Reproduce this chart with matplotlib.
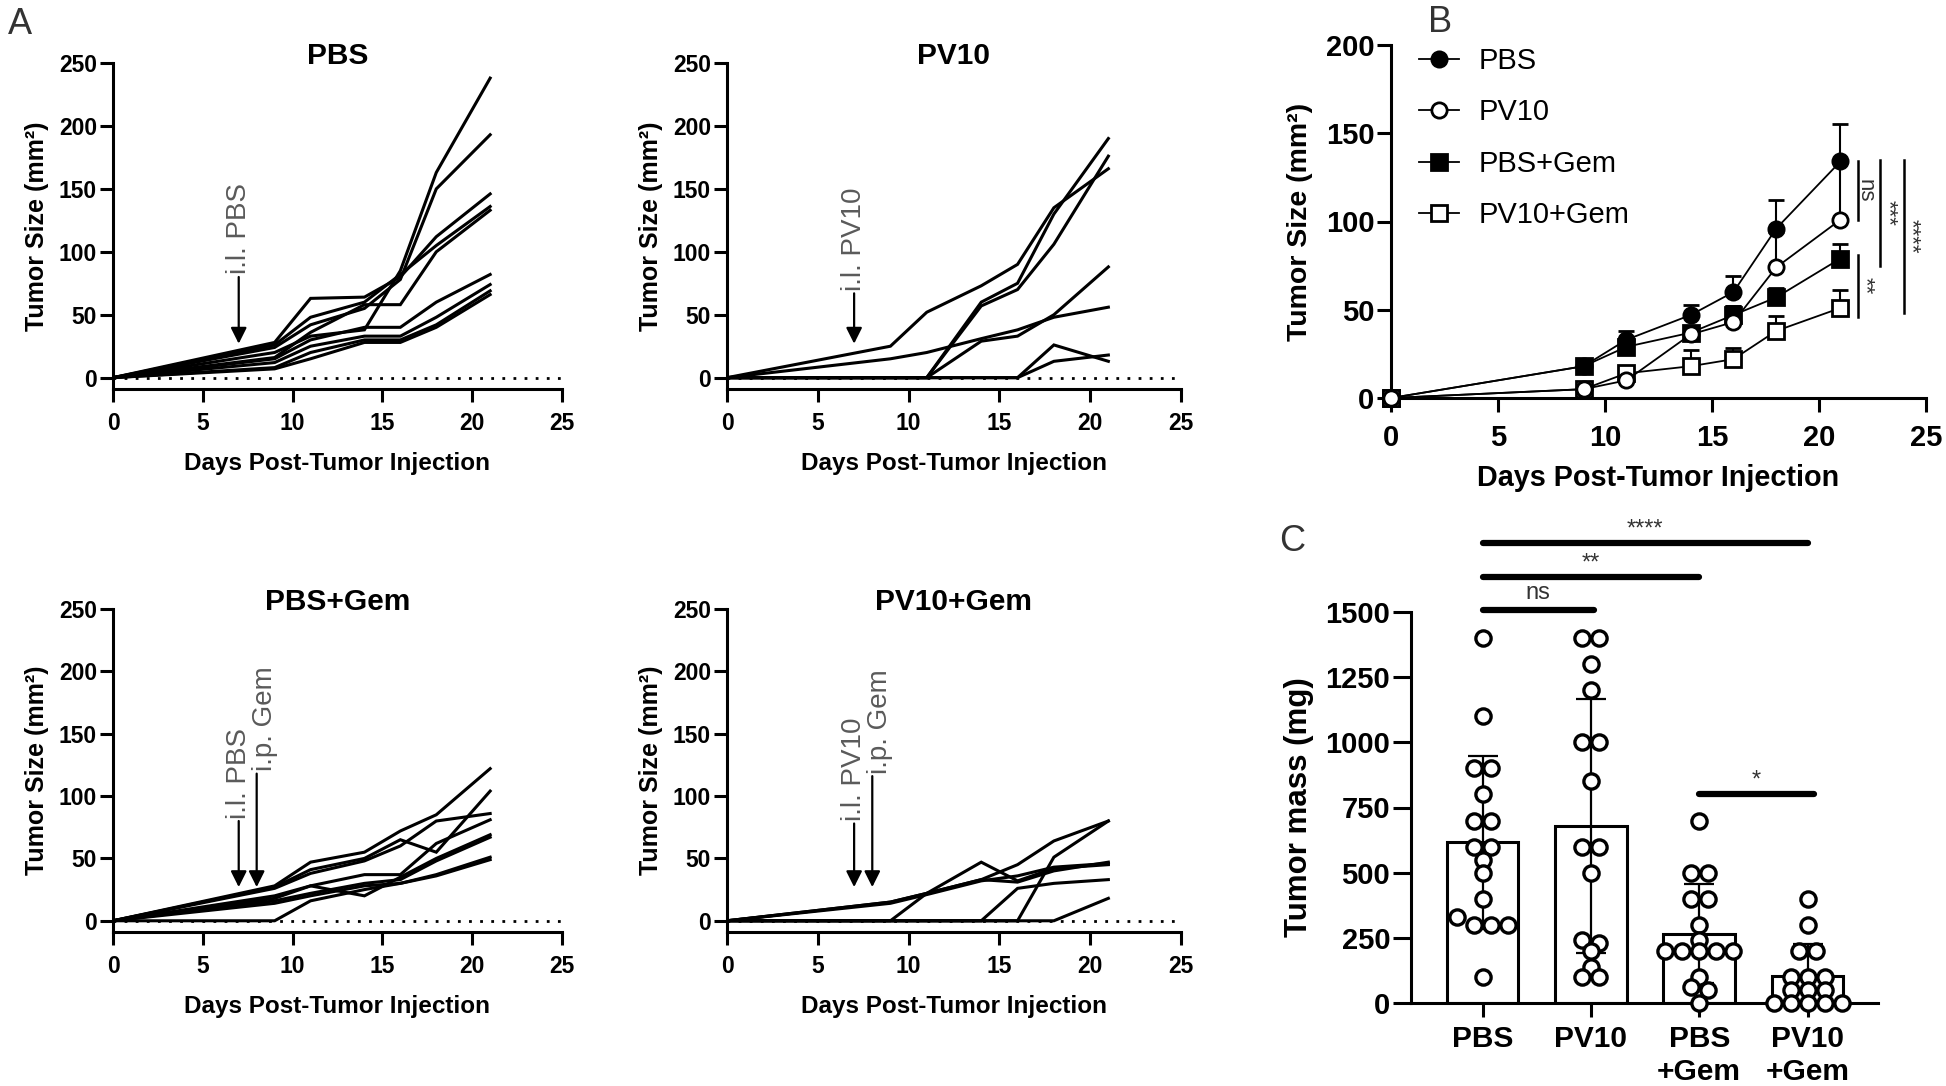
import numpy as np
import matplotlib
matplotlib.use('Agg')
import matplotlib.pyplot as plt
from matplotlib.lines import Line2D

plt.rcParams['font.family'] = ['Liberation Sans', 'DejaVu Sans']

# ---------------- data ----------------
days = [0, 9, 11, 14, 16, 18, 21]

pbs_mice = [
    [0, 20, 33, 38, 85, 163, 238],
    [0, 24, 42, 55, 78, 150, 193],
    [0, 28, 63, 64, 80, 112, 146],
    [0, 26, 48, 60, 82, 105, 136],
    [0, 16, 36, 58, 58, 100, 133],
    [0, 15, 30, 40, 40, 60, 82],
    [0, 12, 25, 33, 33, 48, 74],
    [0, 8, 20, 30, 30, 42, 69],
    [0, 7, 15, 28, 28, 40, 66],
]
pv10_mice = [
    [0, 25, 52, 73, 90, 135, 166],
    [0, 0, 0, 60, 75, 130, 190],
    [0, 0, 0, 57, 70, 106, 176],
    [0, 15, 20, 31, 38, 48, 56],
    [0, 0, 0, 29, 33, 50, 88],
    [0, 0, 0, 0, 0, 26, 13],
    [0, 0, 0, 0, 0, 13, 18],
]
pbsgem_mice = [
    [0, 28, 47, 55, 72, 85, 122],
    [0, 27, 41, 50, 65, 55, 104],
    [0, 26, 38, 48, 60, 80, 86],
    [0, 20, 28, 37, 37, 62, 81],
    [0, 18, 28, 20, 35, 50, 69],
    [0, 16, 22, 30, 33, 48, 67],
    [0, 14, 20, 28, 30, 37, 51],
    [0, 0, 16, 25, 30, 36, 49],
]
pv10gem_mice = [
    [0, 15, 22, 33, 45, 64, 80],
    [0, 15, 22, 33, 31, 40, 47],
    [0, 0, 22, 47, 32, 42, 45],
    [0, 0, 0, 0, 26, 30, 33],
    [0, 0, 0, 0, 0, 51, 80],
    [0, 0, 0, 0, 0, 0, 18],
    [0, 14, 21, 32, 36, 43, 46],
]

# panel B: mean and SEM
groups = ['PBS', 'PV10', 'PBS+Gem', 'PV10+Gem']
mean_pbs = [0, 18, 33, 47, 60, 96, 134]
sem_pbs = [0, 1, 5, 5.5, 9, 16, 21]
mean_pv10 = [0, 5, 10, 36, 43, 74, 101]
sem_pv10 = [0, 1, 2, 4, 9, 20, 32]
mean_pbsgem = [0, 18, 29, 37, 47, 57, 79]
sem_pbsgem = [0, 1, 3, 3, 5, 5.6, 8.5]
mean_pv10gem = [0, 5, 14, 18, 22, 38, 51]
sem_pv10gem = [0, 1, 2, 9.4, 6.5, 8.4, 10.3]

# panel C: tumor mass (mg)
c_labels = ['PBS', 'PV10', 'PBS\n+Gem', 'PV10\n+Gem']
mass_pbs = [1400, 1100, 900, 900, 800, 700, 700, 600, 600, 550, 500, 400, 330, 300, 300, 300, 100]
mass_pv10 = [1400, 1400, 1300, 1200, 1000, 1000, 850, 600, 600, 500, 240, 230, 200, 140, 100, 100]
mass_pbsgem = [700, 500, 500, 400, 400, 300, 240, 200, 200, 200, 200, 200, 100, 60, 50, 0]
mass_pv10gem = [400, 300, 200, 200, 100, 100, 100, 50, 50, 50, 0, 0, 0, 0, 0]

# ---------------- figure ----------------
W, H = 1946, 1086
fig = plt.figure(figsize=(W / 100, H / 100), dpi=100)

def frac(l, r, top, bot):
    return [l / W, 1 - bot / H, (r - l) / W, (bot - top) / H]

SPINE_LW = 2.2
GRAY = '#5a5a5a'

def style_axes(ax, tick_fs, tl=9.5, xpad=7, ypad=2):
    for s in ['top', 'right']:
        ax.spines[s].set_visible(False)
    for s in ['left', 'bottom']:
        ax.spines[s].set_linewidth(SPINE_LW)
    ax.tick_params(direction='out', length=tl, width=SPINE_LW, labelsize=tick_fs)
    ax.tick_params(axis='x', pad=xpad)
    ax.tick_params(axis='y', pad=ypad)
    for lab in ax.get_xticklabels() + ax.get_yticklabels():
        lab.set_fontweight('bold')

def panel_a(rect, title, mice, arrows):
    ax = fig.add_axes(rect)
    ax.set_xlim(0, 25)
    ax.set_ylim(-9, 250)
    ax.plot([0, 25], [0, 0], color='black', lw=2.0, ls=(0, (1, 3)), zorder=1)
    for m in mice:
        ax.plot(days, m, color='black', lw=2.2, zorder=2, solid_joinstyle='miter')
    ax.set_xticks([0, 5, 10, 15, 20, 25])
    ax.set_yticks([0, 50, 100, 150, 200, 250])
    style_axes(ax, 16.5)
    h_px = rect[3] * H
    ax.text(0.5, 1.0 - 1.5 / h_px, title, transform=ax.transAxes, ha='center',
            va='baseline', fontsize=21.5, fontweight='bold')
    ax.set_xlabel('Days Post-Tumor Injection', fontsize=17.5, fontweight='bold', labelpad=12)
    ax.set_ylabel('Tumor Size (mm²)', fontsize=18, fontweight='bold', labelpad=7)
    for (xd, ytop, txt, tx) in arrows:
        ax.annotate('', xy=(xd, 27), xytext=(xd, ytop),
                    arrowprops=dict(arrowstyle='-|>', color='black', lw=1.6,
                                    mutation_scale=24, shrinkA=0, shrinkB=0))
        ax.text(tx, ytop + 2, txt, rotation=90, ha='center', va='bottom',
                color=GRAY, fontsize=20)
    return ax

panel_a(frac(113, 562, 63, 389), 'PBS', pbs_mice, [(7, 80, 'i.l. PBS', 7)])
panel_a(frac(727, 1181, 63, 389), 'PV10', pv10_mice, [(7, 67, 'i.l. PV10', 7)])
panel_a(frac(113, 562, 609, 932), 'PBS+Gem', pbsgem_mice,
        [(7, 80, 'i.l. PBS', 7), (8, 118, 'i.p. Gem', 8.45)])
panel_a(frac(727, 1181, 609, 932), 'PV10+Gem', pv10gem_mice,
        [(7, 78, 'i.l. PV10', 7), (8, 116, 'i.p. Gem', 8.45)])

# ---------------- panel B ----------------
axb = fig.add_axes(frac(1391, 1926, 45, 398))
axb.set_xlim(0, 25)
axb.set_ylim(0, 200)
series = [
    ('PBS', mean_pbs, sem_pbs, 'o', 'black', 3),
    ('PBS+Gem', mean_pbsgem, sem_pbsgem, 's', 'black', 4),
    ('PV10+Gem', mean_pv10gem, sem_pv10gem, 's', 'white', 5),
    ('PV10', mean_pv10, sem_pv10, 'o', 'white', 6),
]
handles = {}
for name, m, s, mk, fc, z in series:
    eb = axb.errorbar(days, m, yerr=[np.zeros(len(s)), s], color='black', lw=1.3,
                      marker=mk, markersize=11, markerfacecolor=fc,
                      markeredgecolor='black', markeredgewidth=2.0,
                      capsize=5.5, capthick=1.5, elinewidth=1.5, zorder=z, clip_on=False)
    for art in eb.lines[2]:
        art.set_clip_on(False)
    for art in eb.lines[1]:
        art.set_clip_on(False)
    handles[name] = Line2D([], [], color='black', lw=1.3, marker=mk, markersize=11,
                           markerfacecolor=fc, markeredgecolor='black', markeredgewidth=2.0)
axb.set_xticks([0, 5, 10, 15, 20, 25])
axb.set_yticks([0, 50, 100, 150, 200])
style_axes(axb, 21, tl=10, xpad=9, ypad=2)
axb.set_xlabel('Days Post-Tumor Injection', fontsize=20.7, fontweight='bold', labelpad=8)
axb.set_ylabel('Tumor Size (mm²)', fontsize=20.5, fontweight='bold', labelpad=9)
axb.legend([handles[g] for g in groups], groups, loc='upper left',
           bbox_to_anchor=(0.031, 1.027), frameon=False, fontsize=21,
           handlelength=1.35, handletextpad=0.7, labelspacing=0.8, borderaxespad=0)

# significance lines in B: (x, y_low, y_high, text)
b_sig_x = [21.8, 21.8, 22.85, 23.95]
b_sig_lo = [101, 46, 75, 48]
b_sig_hi = [134, 81, 135, 135]
b_sig_txt = ['ns', '**', '***', '****']
for x, lo, hi, t in zip(b_sig_x, b_sig_lo, b_sig_hi, b_sig_txt):
    axb.plot([x, x], [lo, hi], color='black', lw=1.8, clip_on=False)
    axb.text(x + 0.36, (lo + hi) / 2, t, rotation=270, ha='center', va='center',
             fontsize=16, color='#333333')

# ---------------- panel C ----------------
axc = fig.add_axes(frac(1411, 1878, 612, 1003))
axc.set_xlim(-0.66, 3.65)
axc.set_ylim(0, 1500)
masses = [mass_pbs, mass_pv10, mass_pbsgem, mass_pv10gem]
xpos = np.arange(len(masses))
means = [np.mean(v) for v in masses]
sds = [np.std(v, ddof=1) for v in masses]
axc.bar(xpos, means, width=0.66, color='white', edgecolor='black', linewidth=2.2, zorder=1)
axc.errorbar(xpos, means, yerr=sds, fmt='none', ecolor='black', elinewidth=1.6,
             capsize=11, capthick=1.6, zorder=2)

px_per_x = (1878 - 1411) / (3.65 + 0.66)
px_per_y = (1003 - 612) / 1500
diam = 17.0
spacing = 17.0

def swarm(vals):
    vals = np.asarray(vals, dtype=float)
    order = np.argsort(-vals, kind='stable')
    rows, cur = [], [order[0]]
    for idx in order[1:]:
        if (vals[cur[0]] - vals[idx]) * px_per_y < 0.6 * diam:
            cur.append(idx)
        else:
            rows.append(cur)
            cur = [idx]
    rows.append(cur)
    off = np.zeros(len(vals))
    for row in rows:
        n = len(row)
        for k, idx in enumerate(row):
            off[idx] = (k - (n - 1) / 2) * spacing / px_per_x
    return off

for i, v in enumerate(masses):
    off = swarm(v)
    axc.scatter(i + off, v, s=120, facecolor='white', edgecolor='black',
                linewidth=2.4, zorder=3, clip_on=False)

axc.set_xticks(xpos)
axc.set_xticklabels(c_labels)
axc.set_yticks([0, 250, 500, 750, 1000, 1250, 1500])
style_axes(axc, 21, tl=13, xpad=6, ypad=2)
axc.tick_params(axis='x', labelsize=21.5, length=10)
for lab in axc.get_xticklabels():
    lab.set_fontweight('bold')
axc.set_ylabel('Tumor mass (mg)', fontsize=22.5, fontweight='bold', labelpad=8)

c_sig_x0 = [0, 0, 0, 2]
c_sig_x1 = [1.03, 2.0, 3.0, 3.06]
c_sig_y = [1507, 1636, 1765, 800]
c_sig_txt = ['ns', '**', '****', '*']
c_sig_dy = [25, 8, 8, 12]
for x0, x1, y, t, dy in zip(c_sig_x0, c_sig_x1, c_sig_y, c_sig_txt, c_sig_dy):
    axc.plot([x0, x1], [y, y], color='black', lw=4.5, solid_capstyle='round', clip_on=False)
    axc.text((x0 + x1) / 2, y + dy, t, ha='center', va='bottom', fontsize=17, color='#333333')

# panel letters
fig.text(8 / W, 1 - 24 / H, 'A', fontsize=26, color='#333333', ha='left', va='center')
fig.text(1428 / W, 1 - 22 / H, 'B', fontsize=26, color='#333333', ha='left', va='center')
fig.text(1279 / W, 1 - 542 / H, 'C', fontsize=26, color='#333333', ha='left', va='center')

fig.savefig('out.png', dpi=100)
